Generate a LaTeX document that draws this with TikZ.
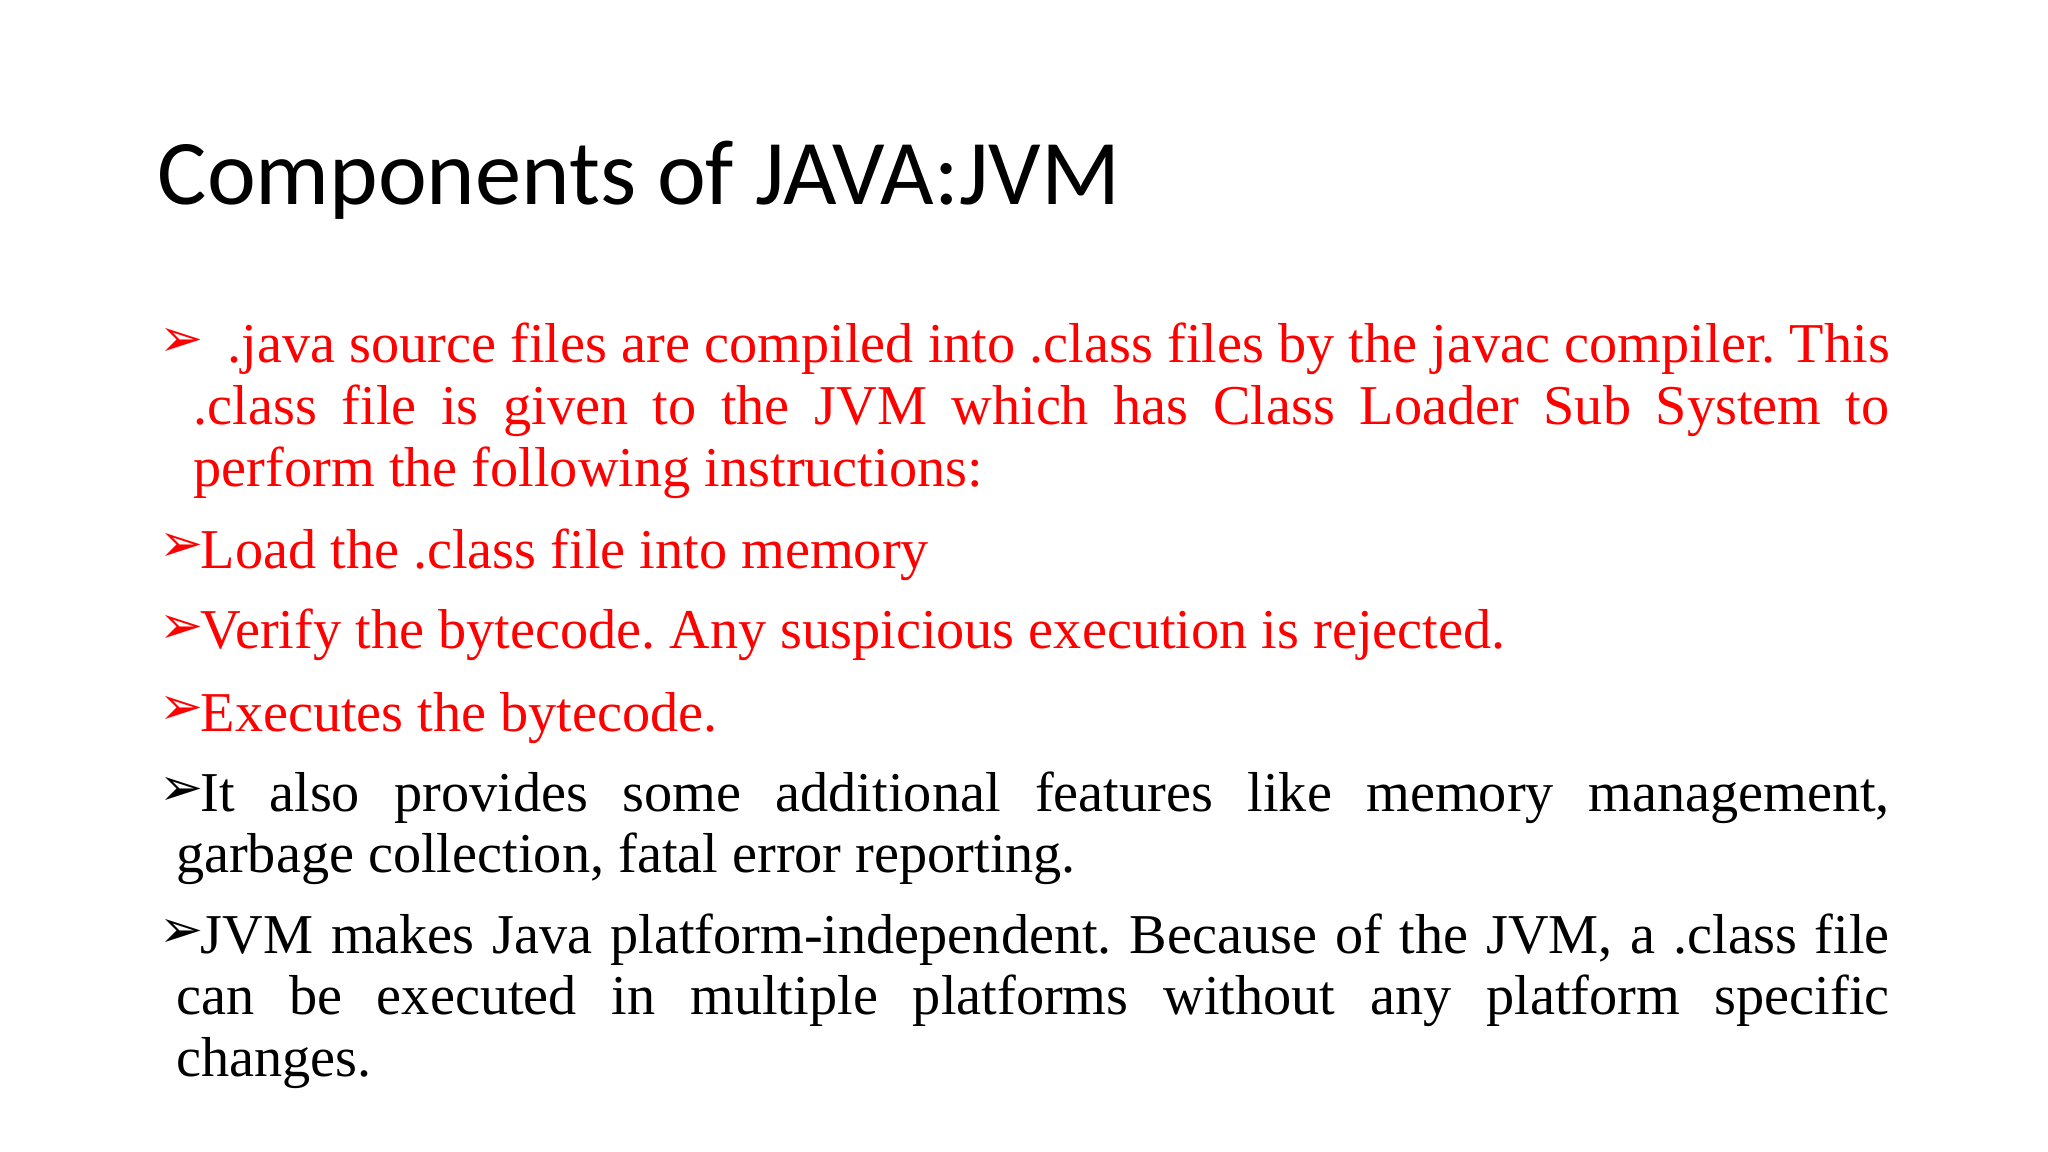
\documentclass[tikz,border=0pt]{standalone}
\usepackage{fontspec}
\setmainfont{Liberation Serif}
\newfontfamily\titlefont{Carlito}
\newfontfamily\symfont{DejaVu Sans}
\begin{document}
\frenchspacing
\begin{tikzpicture}[x=0.01cm,y=0.01cm,
  item/.style={anchor=base west,inner sep=0pt,text width=16.95cm,align=justify,font=\fontsize{16}{17.6}\selectfont\frenchspacing},
  bul/.style={anchor=base west,inner sep=0pt,font=\symfont\fontsize{15}{16}\selectfont}]
\useasboundingbox[fill=white] (0,0) rectangle (2048,-1152);
\node[anchor=base west,inner sep=0pt,font=\titlefont\fontsize{26.3}{30}\selectfont] (title) at (157,-205) {Components of JAVA:JVM};
\node[bul,red] (b1) at (159,-357) {➢};
\node[item,red] (t1) at (193,-363) {\hspace*{0.6em}.java source files are compiled into .class files by the javac compiler. This\linebreak .class file is given to the JVM which has Class Loader Sub System to\linebreak perform the following instructions:};
\node[bul,red] (b2) at (159,-562) {➢};
\node[item,red] (t2) at (200,-568) {Load the .class file into memory};
\node[bul,red] (b3) at (159,-643) {➢};
\node[item,red] (t3) at (200,-649) {Verify the bytecode. Any suspicious execution is rejected.};
\node[bul,red] (b4) at (159,-725) {➢};
\node[item,red] (t4) at (200,-731) {Executes the bytecode.};
\node[bul] (b5) at (159,-805) {➢};
\node[item,text width=16.88cm] (t5) at (200,-811) {It also provides some additional features like memory management,\linebreak\hspace*{-7pt}garbage collection, fatal error reporting.};
\node[bul] (b6) at (159,-947) {➢};
\node[item,text width=16.88cm] (t6) at (200,-953) {JVM makes Java platform-independent. Because of the JVM, a .class file\linebreak\hspace*{-7pt}can be executed in multiple platforms without any platform specific\linebreak\hspace*{-7pt}changes.};
\end{tikzpicture}
\end{document}
